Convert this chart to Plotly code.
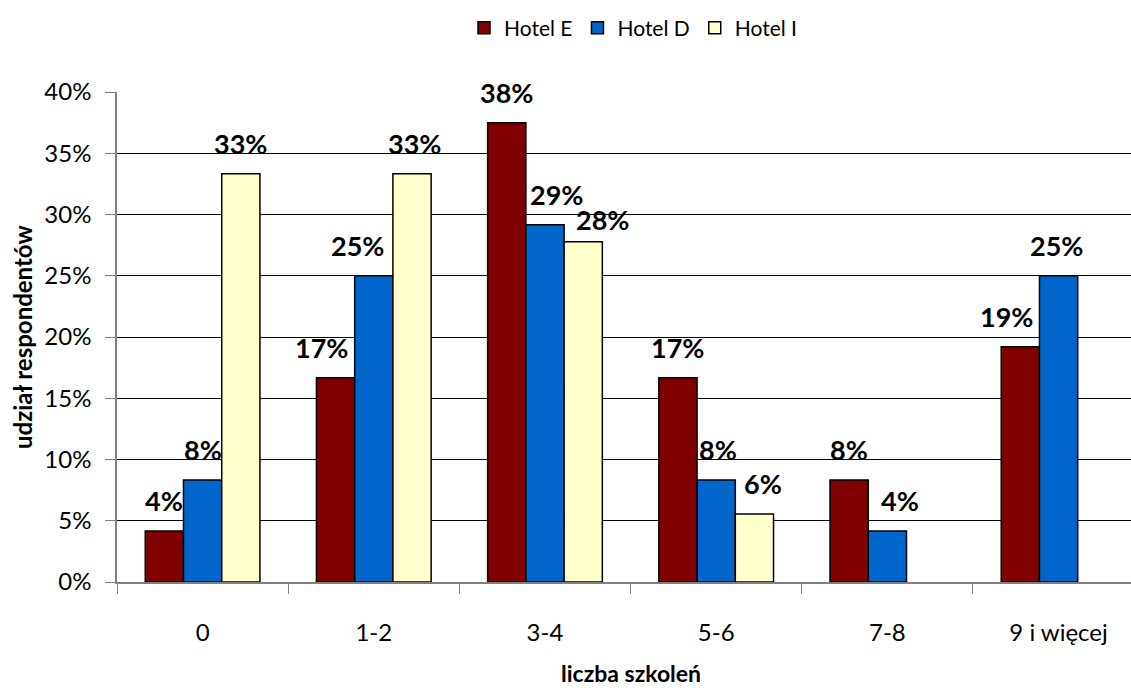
import plotly.graph_objects as go

# Liczba szkoleń i udział respondentów w poszczególnych hotelach
categories = ["0", "1-2", "3-4", "5-6", "7-8", "9 i więcej"]
hotel_e = [0.0417, 0.1667, 0.375, 0.1667, 0.0833, 0.192]
hotel_d = [0.0833, 0.25, 0.2917, 0.0833, 0.0417, 0.25]
hotel_i = [0.3333, 0.3333, 0.2778, 0.0556, None, None]
series_names = ["Hotel E", "Hotel D", "Hotel I"]

# wygląd serii
colors = ["#800000", "#0066CC", "#FFFFCC"]
# przesunięcia etykiet (px), żeby nie nachodziły na siebie
label_dx = [
    [0, -14, 0, 0, 0, -14],
    [0, -16, 12, 2, 13, -2],
    [0, 2, 19, 9, 0, 0],
]
label_dy = [
    [0, 0, 0, 0, 0, 0],
    [0, 0, 0, 0, 0, 0],
    [0, 0, -8, 0, 0, 0],
]

FONT = "Lato"
all_series = [hotel_e, hotel_d, hotel_i]

fig = go.Figure()
for name, vals, col in zip(series_names, all_series, colors):
    fig.add_trace(go.Bar(
        x=categories, y=vals, name=name,
        marker=dict(color=col, line=dict(color="#000000", width=1.5)),
    ))

bargap = 0.33
slot = (1 - bargap) / 3
annotations = []
for k, vals in enumerate(all_series):
    for i, v in enumerate(vals):
        if v is None:
            continue
        annotations.append(dict(
            x=i + (k - 1) * slot, y=v, xref="x", yref="y",
            text=f"<b>{v:.0%}</b>", showarrow=False,
            yanchor="bottom", xanchor="center",
            xshift=label_dx[k][i], yshift=12 + label_dy[k][i],
            font=dict(family=FONT, size=27, color="#000000"),
        ))

annotations.append(dict(
    x=(631 - 117) / 1014, y=-(689 - 582) / 490, xref="paper", yref="paper",
    text="<b>liczba szkoleń</b>", showarrow=False,
    xanchor="center", yanchor="bottom",
    font=dict(family=FONT, size=23, color="#000000"),
))
annotations.append(dict(
    x=(22 - 117) / 1014, y=0.5, xref="paper", yref="paper",
    text="<b>udział respondentów</b>", showarrow=False, textangle=-90,
    xanchor="center", yanchor="middle",
    font=dict(family=FONT, size=24, color="#000000"),
))

fig.update_layout(
    width=1131, height=691,
    margin=dict(l=117, r=0, t=92, b=109, autoexpand=False),
    paper_bgcolor="#FFFFFF", plot_bgcolor="#FFFFFF",
    barmode="group", bargap=bargap, bargroupgap=0,
    showlegend=True,
    legend=dict(
        orientation="h", x=633 / 1131, xanchor="center",
        xref="container", yref="container", y=1 - 28 / 691, yanchor="middle",
        font=dict(family=FONT, size=21, color="#000000"),
        itemwidth=30, tracegroupgap=0,
    ),
    annotations=annotations,
    xaxis=dict(
        type="category", range=[-0.5, 5.423],
        showline=True, linecolor="#808080", linewidth=1.5,
        ticks="outside", tickson="boundaries", ticklen=10, tickcolor="#808080",
        tickfont=dict(family=FONT, size=24, color="#000000"),
        ticklabelstandoff=28,
        showgrid=False, zeroline=False,
    ),
    yaxis=dict(
        range=[0, 0.40], dtick=0.05, tickformat=".0%",
        showline=True, linecolor="#808080", linewidth=1.5,
        ticks="outside", ticklen=10, tickcolor="#808080",
        tickfont=dict(family=FONT, size=24, color="#000000"),
        ticklabelstandoff=9,
        showgrid=True, gridcolor="#000000", gridwidth=1,
        zeroline=False,
    ),
)

fig.write_html("out.html")
